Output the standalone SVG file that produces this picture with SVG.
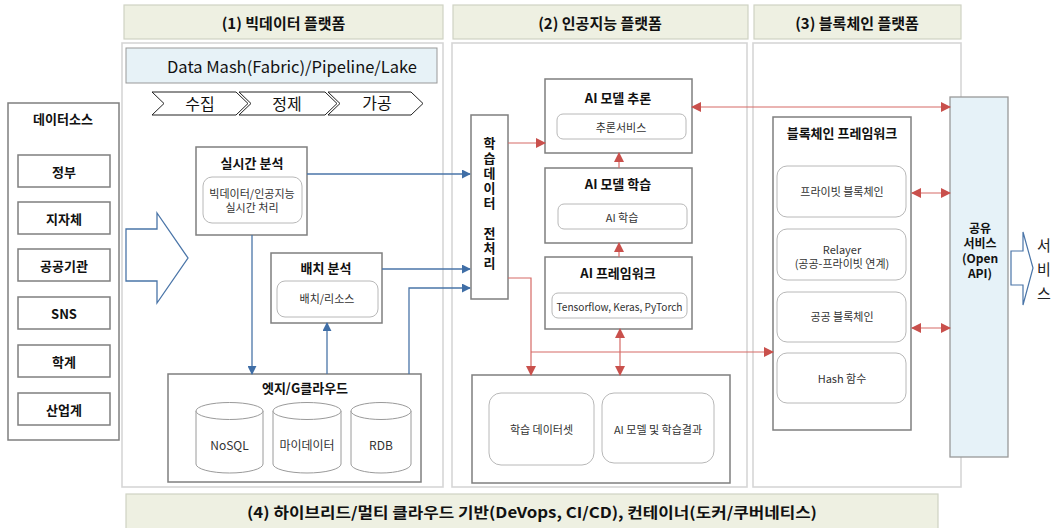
<svg xmlns="http://www.w3.org/2000/svg" width="1053" height="528" viewBox="0 0 1053 528">
<defs>
<style>
text{font-family:"Noto Sans CJK KR","Noto Sans",sans-serif;fill:#111;text-anchor:middle;dominant-baseline:central}
.hdr{fill:#eef0e2;stroke:#cfd2c4;stroke-width:1.2}
.hdrt{font-size:15px;font-weight:bold}
.panel{fill:#fff;stroke:#d6d6d6;stroke-width:1.6}
.box{fill:#fff;stroke:#7f7f7f;stroke-width:1.5}
.inner{fill:#fff;stroke:#b8b8b8;stroke-width:1}
.t{font-size:13px;font-weight:bold}
.s{font-size:11px;fill:#333}
.v{font-size:13px;font-weight:bold;writing-mode:vertical-rl;text-orientation:upright;letter-spacing:2px}
.cyl{fill:#fff;stroke:#9a9a9a;stroke-width:1}
.blue{stroke:#4a75a8;stroke-width:1.3;fill:none}
.red{stroke:#d66a66;stroke-width:1.2;fill:none}
</style>
<marker id="ab" viewBox="0 0 10 10" refX="9" refY="5" markerWidth="9" markerHeight="9" markerUnits="userSpaceOnUse" orient="auto-start-reverse"><path d="M0,0L10,5L0,10z" fill="#3f6ea6"/></marker>
<marker id="ar" viewBox="0 0 10 10" refX="9" refY="5" markerWidth="10" markerHeight="10" markerUnits="userSpaceOnUse" orient="auto-start-reverse"><path d="M0,0L10,5L0,10z" fill="#c9504c"/></marker>
</defs>
<rect width="1053" height="528" fill="#fff"/>

<g id="headers">
<rect class="hdr" x="124" y="5" width="319" height="34"/>
<text class="hdrt" x="283.5" y="22">(1) 빅데이터 플랫폼</text>
<rect class="hdr" x="453" y="5" width="295" height="34"/>
<text class="hdrt" x="600" y="22">(2) 인공지능 플랫폼</text>
<rect class="hdr" x="754" y="5" width="207" height="34"/>
<text class="hdrt" x="857" y="22">(3) 블록체인 플랫폼</text>
</g>

<g id="panels">
<rect class="panel" x="122" y="43" width="321" height="444"/>
<rect class="panel" x="452" y="43" width="295" height="444"/>
<rect class="panel" x="753" y="43" width="208" height="444"/>
</g>

<g id="footer">
<rect class="hdr" x="126" y="494" width="812" height="46" stroke="#9a9a9a"/>
<text class="hdrt" x="532" y="511" textLength="570" lengthAdjust="spacingAndGlyphs">(4) 하이브리드/멀티 클라우드 기반(DeVops, CI/CD), 컨테이너(도커/쿠버네티스)</text>
</g>

<g id="datamash">
<rect x="126" y="48" width="311" height="35" fill="#e7f2f7" stroke="#999" stroke-width="1"/>
<text x="292" y="66" style="font-size:16px" textLength="250" lengthAdjust="spacingAndGlyphs">Data Mash(Fabric)/Pipeline/Lake</text>
</g>

<g id="pipeline">
<polygon points="152,92 236,92 248,103.5 236,115 152,115 164,103.5" fill="#fff" stroke="#222" stroke-width="1"/>
<text x="200" y="103" style="font-size:16px">수집</text>
<polygon points="239,92 325,92 337,103.5 325,115 239,115 251,103.5" fill="#fff" stroke="#222" stroke-width="1"/>
<text x="287" y="103" style="font-size:16px">정제</text>
<polygon points="328,92 411,92 423,103.5 411,115 328,115 340,103.5" fill="#fff" stroke="#222" stroke-width="1"/>
<text x="377" y="102" style="font-size:16px">가공</text>
</g>

<g id="datasource">
<rect class="box" x="8" y="103" width="111" height="337"/>
<text class="t" x="63" y="118">데이터소스</text>
<rect class="box" x="18" y="155" width="92" height="32" stroke-width="1"/>
<text class="t" x="64" y="171">정부</text>
<rect class="box" x="18" y="202" width="92" height="32" stroke-width="1"/>
<text class="t" x="64" y="218">지자체</text>
<rect class="box" x="18" y="249" width="92" height="32" stroke-width="1"/>
<text class="t" x="64" y="265">공공기관</text>
<rect class="box" x="18" y="297" width="92" height="32" stroke-width="1"/>
<text class="t" x="64" y="313">SNS</text>
<rect class="box" x="18" y="345" width="92" height="32" stroke-width="1"/>
<text class="t" x="64" y="361">학계</text>
<rect class="box" x="18" y="393" width="92" height="32" stroke-width="1"/>
<text class="t" x="64" y="409">산업계</text>
</g>

<g id="inflow-arrow">
<polygon points="126,229 157,229 157,213 188,258 157,303 157,281 126,281" fill="#fff" stroke="#4a75a8" stroke-width="1.3"/>
</g>

<g id="realtime">
<rect class="box" x="196" y="147" width="111" height="88"/>
<text class="t" x="252" y="162">실시간 분석</text>
<rect class="inner" x="203" y="177" width="99" height="46" rx="9"/>
<text class="s" x="252" y="193">빅데이터/인공지능<tspan x="252" dy="14">실시간 처리</tspan></text>
</g>

<g id="batch">
<rect class="box" x="271" y="253" width="111" height="70"/>
<text class="t" x="326" y="267">배치 분석</text>
<rect class="inner" x="277" y="281" width="101" height="36" rx="8"/>
<text class="s" x="327" y="298">배치/리소스</text>
</g>

<g id="edge">
<rect class="box" x="168" y="374" width="253" height="108"/>
<text class="t" x="305" y="387">엣지/G클라우드</text>
<path class="cyl" d="M196,411 A33.5,8.5 0 0 1 263,411 L263,464 A33.5,9 0 0 1 196,464 Z"/>
<path class="cyl" d="M196,411 A33.5,8.5 0 0 0 263,411" fill="none"/>
<text class="s" x="229.5" y="444" style="font-size:12px">NoSQL</text>
<path class="cyl" d="M273,411 A34,8.5 0 0 1 341,411 L341,464 A34,9 0 0 1 273,464 Z"/>
<path class="cyl" d="M273,411 A34,8.5 0 0 0 341,411" fill="none"/>
<text class="s" x="307" y="444" style="font-size:12px">마이데이터</text>
<path class="cyl" d="M351,411 A30,8.5 0 0 1 411,411 L411,464 A30,9 0 0 1 351,464 Z"/>
<path class="cyl" d="M351,411 A30,8.5 0 0 0 411,411" fill="none"/>
<text class="s" x="381" y="444" style="font-size:12px">RDB</text>
</g>

<g id="preprocess">
<rect class="box" x="471" y="115" width="37" height="184"/>
<text class="v" x="489.5" y="174">학습데이터</text>
<text class="v" x="489.5" y="249">전처리</text>
</g>

<g id="inference">
<rect class="box" x="545" y="79" width="147" height="74"/>
<text class="t" x="618" y="97">AI 모델 추론</text>
<rect class="inner" x="557" y="114" width="129" height="25" rx="6"/>
<text class="s" x="621" y="127">추론서비스</text>
</g>

<g id="training">
<rect class="box" x="545" y="168" width="147" height="75"/>
<text class="t" x="618" y="183">AI 모델 학습</text>
<rect class="inner" x="558" y="204" width="129" height="25" rx="6"/>
<text class="s" x="622" y="217">AI 학습</text>
</g>

<g id="framework">
<rect class="box" x="545" y="257" width="147" height="72"/>
<text class="t" x="618" y="272">AI 프레임워크</text>
<rect class="inner" x="552" y="293" width="135" height="25" rx="6"/>
<text class="s" x="619.5" y="306" textLength="126" lengthAdjust="spacingAndGlyphs">Tensorflow, Keras, PyTorch</text>
</g>

<g id="storage">
<rect class="box" x="472" y="375" width="258" height="108"/>
<rect class="inner" x="489" y="393" width="105" height="72" rx="12"/>
<text class="s" x="541.5" y="429">학습 데이터셋</text>
<rect class="inner" x="602" y="393" width="112" height="70" rx="12"/>
<text class="s" x="658" y="429">AI 모델 및 학습결과</text>
</g>

<g id="blockchain">
<rect class="box" x="773" y="117" width="138" height="313"/>
<text class="t" x="842" y="132">블록체인 프레임워크</text>
<rect class="inner" x="777" y="166" width="129" height="51" rx="10"/>
<text class="s" x="842" y="191">프라이빗 블록체인</text>
<rect class="inner" x="777" y="229" width="129" height="51" rx="10"/>
<text class="s" x="842" y="249">Relayer<tspan x="842" dy="14">(공공-프라이빗 연계)</tspan></text>
<rect class="inner" x="777" y="292" width="129" height="50" rx="10"/>
<text class="s" x="842" y="316">공공 블록체인</text>
<rect class="inner" x="777" y="353" width="129" height="50" rx="10"/>
<text class="s" x="842" y="378">Hash 함수</text>
</g>

<g id="shared">
<rect x="950" y="97" width="58" height="360" fill="#e6f2f8" stroke="#999" stroke-width="1.3"/>
<text x="980" y="227" style="font-size:12px;font-weight:bold">공유<tspan x="980" dy="15">서비스</tspan><tspan x="980" dy="15">(Open</tspan><tspan x="980" dy="15">API)</tspan></text>
</g>

<g id="service">
<polygon points="1011,251 1023,251 1023,232 1033,268 1023,305 1023,285 1011,285" fill="#fff" stroke="#4a75a8" stroke-width="1.2"/>
<text x="1044" y="244" style="font-size:15px;fill:#222">서</text>
<text x="1044" y="268" style="font-size:15px;fill:#222">비</text>
<text x="1044" y="292" style="font-size:15px;fill:#222">스</text>
</g>

<g id="connectors">
<path class="blue" d="M307,174 H470" marker-end="url(#ab)"/>
<path class="blue" d="M382,269 H470" marker-end="url(#ab)"/>
<path class="blue" d="M409,374 V288 H470" marker-end="url(#ab)"/>
<path class="blue" d="M252,235 V374" marker-end="url(#ab)"/>
<path class="blue" d="M327,374 V323" marker-end="url(#ab)"/>
<path class="red" d="M508,143 H545" marker-end="url(#ar)"/>
<path class="red" d="M692,107 H950" marker-start="url(#ar)" marker-end="url(#ar)"/>
<path class="red" d="M619,168 V153" marker-end="url(#ar)"/>
<path class="red" d="M619,257 V243" marker-end="url(#ar)"/>
<path class="red" d="M508,278 H531 V375" marker-end="url(#ar)"/>
<path class="red" d="M531,352 H773" marker-end="url(#ar)"/>
<path class="red" d="M620,329 V375" marker-start="url(#ar)" marker-end="url(#ar)"/>
<path class="red" d="M912,193 H950" marker-start="url(#ar)" marker-end="url(#ar)"/>
<path class="red" d="M912,328 H950" marker-start="url(#ar)" marker-end="url(#ar)"/>
</g>
</svg>
